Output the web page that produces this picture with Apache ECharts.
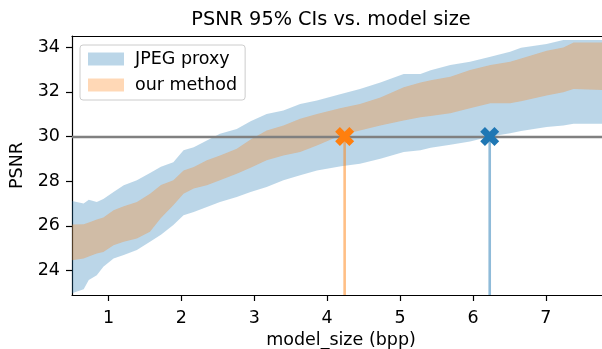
<!DOCTYPE html>
<html>
<head>
<meta charset="utf-8">
<script src="https://cdn.jsdelivr.net/npm/echarts@6/dist/echarts.min.js"></script>
<style>
  html, body { margin: 0; padding: 0; background: #fff; }
  #chart { width: 602px; height: 349px; }
</style>
</head>
<body>
<div id="chart"></div>
<script>
    // model size (bpp) where the bands were sampled
    const modelSize = [0.50, 0.66, 0.73, 0.84, 0.93, 1.07, 1.21, 1.39, 1.57, 1.72, 1.89, 2.03, 2.17, 2.35, 2.53, 2.76, 2.95, 3.17, 3.40, 3.63, 3.86, 4.19, 4.45, 4.73, 5.05, 5.28, 5.42, 5.69, 5.96, 6.24, 6.51, 6.66, 7.01, 7.24, 7.38, 7.77, 7.88];
    // JPEG proxy 95% CI
    const jpegUpper = [27.11, 27.00, 27.17, 27.07, 27.20, 27.51, 27.81, 28.04, 28.36, 28.64, 28.85, 29.38, 29.52, 29.82, 30.12, 30.34, 30.68, 31.01, 31.16, 31.46, 31.61, 31.90, 32.13, 32.42, 32.80, 32.80, 32.97, 33.20, 33.35, 33.57, 33.79, 33.97, 34.14, 34.32, 34.32, 34.32, 34.32];
    const jpegLower = [22.98, 23.16, 23.57, 23.79, 24.17, 24.54, 24.69, 24.91, 25.28, 25.60, 26.03, 26.47, 26.62, 26.84, 27.07, 27.29, 27.51, 27.74, 28.04, 28.26, 28.48, 28.67, 28.78, 29.00, 29.30, 29.38, 29.50, 29.63, 29.78, 30.00, 30.15, 30.25, 30.42, 30.49, 30.57, 30.57, 30.57];
    // our method 95% CI
    const oursUpper = [26.06, 26.07, 26.15, 26.28, 26.37, 26.70, 26.88, 27.07, 27.44, 27.83, 28.04, 28.48, 28.63, 28.93, 29.15, 29.45, 29.86, 30.27, 30.49, 30.79, 31.01, 31.27, 31.46, 31.75, 32.20, 32.42, 32.52, 32.68, 32.98, 33.20, 33.35, 33.49, 33.84, 33.99, 34.21, 34.21, 34.21];
    const oursLower = [24.46, 24.54, 24.62, 24.76, 24.83, 25.13, 25.28, 25.43, 25.73, 26.35, 26.92, 27.44, 27.67, 27.81, 28.04, 28.33, 28.60, 28.93, 29.15, 29.30, 29.60, 30.05, 30.27, 30.49, 30.71, 30.86, 30.92, 31.04, 31.26, 31.49, 31.49, 31.58, 31.83, 31.98, 32.13, 32.08, 32.08];

    const threshold = 30;
    const crossOurs = 4.24;
    const crossJpeg = 6.23;

    const xTicks = [1, 2, 3, 4, 5, 6, 7];
    const yTicks = [24, 26, 28, 30, 32, 34];
    const xMin = 0.5, xMax = 7.88;
    const yMin = 22.9, yMax = 34.5;

    const blue = '#1f77b4';
    const orange = '#ff7f0e';
    const font = 'DejaVu Sans';
    const xMarker = 'path://M2.5,0 L5,2.5 L7.5,0 L10,2.5 L7.5,5 L10,7.5 L7.5,10 L5,7.5 L2.5,10 L0,7.5 L2.5,5 L0,2.5 Z';

    // one filled polygon per band, built from the axis coordinates
    function bandSeries(name, lower, upper, fill, z) {
        return {
            name: name,
            type: 'custom',
            silent: true,
            z: z,
            encode: { x: 0, y: [1, 2] },
            data: modelSize.map(function (x, i) { return [x, lower[i], upper[i]]; }),
            renderItem: function (params, api) {
                if (params.dataIndex !== 0) {
                    return null;
                }
                let pts = [];
                for (let i = 0; i < modelSize.length; i++) {
                    pts.push(api.coord([modelSize[i], upper[i]]));
                }
                for (let i = modelSize.length - 1; i >= 0; i--) {
                    pts.push(api.coord([modelSize[i], lower[i]]));
                }
                return {
                    type: 'polygon',
                    shape: { points: pts },
                    style: { fill: fill }
                };
            }
        };
    }

    let myChart = echarts.init(document.getElementById('chart'));
    myChart.setOption({
        animation: false,
        textStyle: { fontFamily: font },
        title: {
            text: 'PSNR 95% CIs vs. model size',
            left: 326,
            textAlign: 'center',
            top: 5,
            textStyle: { fontFamily: font, fontSize: 19.3, fontWeight: 'normal', color: '#000' }
        },
        legend: {
            orient: 'vertical',
            left: 80,
            top: 45,
            padding: [5, 8, 6, 8],
            itemWidth: 36,
            itemHeight: 13,
            itemGap: 8,
            icon: 'rect',
            borderColor: '#cccccc',
            borderWidth: 1,
            borderRadius: 3,
            backgroundColor: 'rgba(255,255,255,0.8)',
            itemStyle: { borderWidth: 0 },
            textStyle: { fontFamily: font, fontSize: 17.5, color: '#000', padding: [0, 0, 0, 6] },
            data: [
                { name: 'JPEG proxy', itemStyle: { color: 'rgba(31,119,180,0.3)' } },
                { name: 'our method', itemStyle: { color: 'rgba(255,127,14,0.3)' } }
            ]
        },
        grid: {
            left: 72,
            top: 36,
            right: -8,
            bottom: 54,
            outerBoundsMode: 'none'
        },
        xAxis: [{
            type: 'value',
            min: xMin,
            max: xMax,
            name: 'model_size (bpp)',
            nameLocation: 'middle',
            nameGap: 35,
            nameTextStyle: { fontFamily: font, fontSize: 17.5, color: '#000' },
            axisLine: { lineStyle: { color: '#000', width: 1.2 } },
            axisTick: { length: 6, lineStyle: { color: '#000', width: 1.2 }, customValues: xTicks },
            axisLabel: { fontFamily: font, fontSize: 17.5, color: '#000', margin: 14, customValues: xTicks },
            splitLine: { show: false }
        }, {
            type: 'value',
            position: 'top',
            min: xMin,
            max: xMax,
            axisLine: { show: true, lineStyle: { color: '#000', width: 1.2 } },
            axisTick: { show: false },
            axisLabel: { show: false },
            splitLine: { show: false }
        }],
        yAxis: {
            type: 'value',
            min: yMin,
            max: yMax,
            name: 'PSNR',
            nameLocation: 'middle',
            nameRotate: 90,
            nameGap: 43,
            nameTextStyle: { fontFamily: font, fontSize: 17.5, color: '#000' },
            axisLine: { show: true, lineStyle: { color: '#000', width: 1.2 } },
            axisTick: { show: true, length: 6, lineStyle: { color: '#000', width: 1.2 }, customValues: yTicks },
            axisLabel: { fontFamily: font, fontSize: 17.5, color: '#000', margin: 12, customValues: yTicks },
            splitLine: { show: false }
        },
        series: [
            bandSeries('JPEG proxy', jpegLower, jpegUpper, 'rgba(31,119,180,0.3)', 1),
            bandSeries('our method', oursLower, oursUpper, 'rgba(255,127,14,0.3)', 2),
            {
                name: 'oursCross',
                type: 'line',
                data: [[crossOurs, yMin], [crossOurs, threshold]],
                symbol: 'none',
                lineStyle: { color: 'rgba(255,127,14,0.5)', width: 2.6 },
                silent: true,
                z: 3,
                markLine: {
                    silent: true,
                    symbol: 'none',
                    label: { show: false },
                    lineStyle: { color: '#808080', width: 2.4, type: 'solid' },
                    data: [{ yAxis: threshold }]
                }
            },
            {
                name: 'jpegCross',
                type: 'line',
                data: [[crossJpeg, yMin], [crossJpeg, threshold]],
                symbol: 'none',
                lineStyle: { color: 'rgba(31,119,180,0.5)', width: 2.6 },
                silent: true,
                z: 3
            },
            {
                name: 'oursMark',
                type: 'scatter',
                data: [[crossOurs, threshold]],
                symbol: xMarker,
                symbolSize: 19,
                itemStyle: { color: orange, opacity: 1 },
                silent: true,
                z: 5
            },
            {
                name: 'jpegMark',
                type: 'scatter',
                data: [[crossJpeg, threshold]],
                symbol: xMarker,
                symbolSize: 19,
                itemStyle: { color: blue, opacity: 1 },
                silent: true,
                z: 5
            }
        ]
    });
</script>
</body>
</html>
